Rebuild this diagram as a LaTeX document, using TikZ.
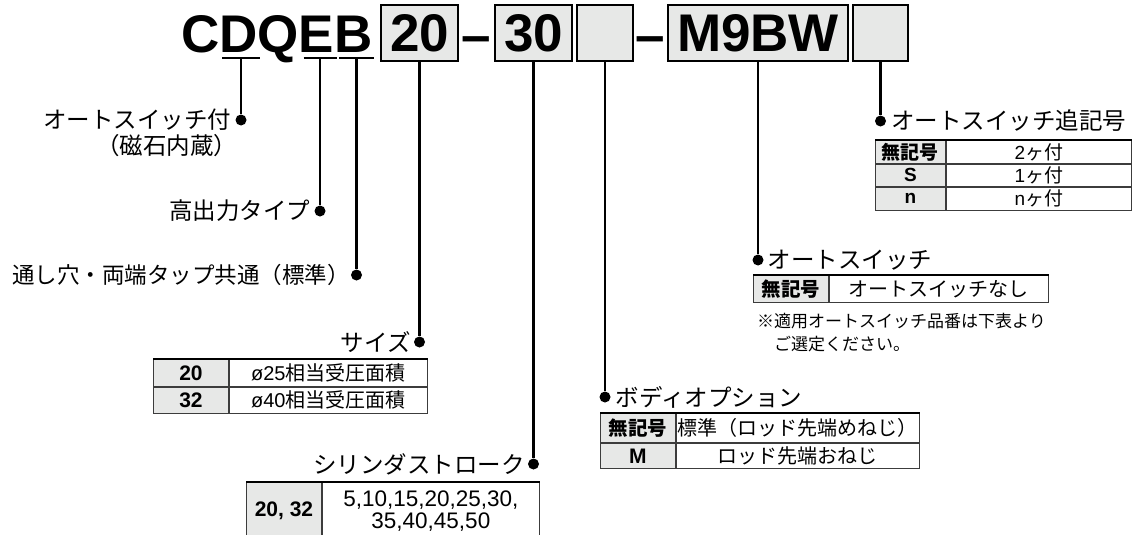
\documentclass[tikz,border=0pt]{standalone}
\usepackage{fontspec}
\setmainfont{Liberation Sans}
\newfontfamily\jp{Noto Sans CJK JP}
\usepackage{tikz}
\usetikzlibrary{calc}
\definecolor{keygray}{RGB}{231,232,231}
\definecolor{cellline}{RGB}{60,60,60}
\newcommand{\fs}[1]{\fontsize{#1}{#1}\selectfont}

\begin{document}
\begin{tikzpicture}[x=1pt,y=-1pt,
  dot/.style={circle,fill=black,inner sep=0pt,minimum size=11pt},
  lead/.style={line width=2.4pt},
  codebox/.style={draw,line width=1.5pt,fill=keygray,inner sep=0pt,minimum height=56pt,font=\bfseries\fs{53}},
  head/.style={inner sep=0pt,font=\jp\fs{23.5}},
  keycell/.style={draw=cellline,fill=keygray,line width=0.9pt,inner sep=0pt,anchor=north west,font=\bfseries\fs{21}},
  valcell/.style={draw=cellline,line width=0.9pt,inner sep=0pt,anchor=north west,font=\fs{20}},
  topline/.style={line width=2.2pt},
  note/.style={inner sep=0pt,anchor=west,font=\jp\fs{17}}]

\useasboundingbox (0,0) rectangle (1135,535);

% model code
\node[anchor=base west,inner sep=0pt,font=\bfseries\fs{53}] (code) at (181,53) {CDQEB};
\node[codebox,minimum width=77pt] (b20) at (419.5,33) {20};
\node[anchor=base,inner sep=0pt,font=\bfseries\fs{53}] (dash1) at (476.5,54) {–};
\node[codebox,minimum width=77pt] (b30) at (533.5,33) {30};
\node[codebox,minimum width=56pt] (bOpt) at (605,33) {};
\node[anchor=base,inner sep=0pt,font=\bfseries\fs{53}] (dash2) at (650.5,54) {–};
\node[codebox,minimum width=180pt] (bSw) at (758,33) {M9BW};
\node[codebox,minimum width=55pt] (bSuf) at (880.5,33) {};

% underlines below the letters
\coordinate (uD) at (241,58);
\coordinate (uE) at (320,58);
\coordinate (uB) at (356.5,58);
\foreach \c/\w in {uD/19,uE/16.5,uB/17.5}
\draw[line width=1.5pt] ([xshift=-\w pt]\c) -- ([xshift=\w pt]\c);

% left side
\node[dot] (dAuto) at (241,120) {};
\draw[lead] (uD) -- (dAuto);
\node[head,anchor=east] (lAuto) at ([xshift=-4pt]dAuto.west) {オートスイッチ付};
\node[head,anchor=north east] (lAuto2) at ([xshift=6pt,yshift=-3pt]lAuto.south east) {（磁石内蔵）};

\node[dot] (dHigh) at (320,211) {};
\draw[lead] (uE) -- (dHigh);
\node[head,anchor=east] (lHigh) at ([xshift=-4pt]dHigh.west) {高出力タイプ};

\node[dot] (dPort) at (356.5,275) {};
\draw[lead] (uB) -- (dPort);
\node[head,anchor=east,font=\jp\fs{22.5}] (lPort) at ([xshift=-1pt]dPort.west) {通し穴・両端タップ共通（標準）};

% bore size
\node[dot] (dSize) at (419.5,342) {};
\draw[lead] (b20) -- (dSize);
\node[head,anchor=east] (lSize) at ([xshift=-3pt]dSize.west) {サイズ};
\node[keycell,minimum width=75pt,minimum height=27pt] (s1k) at (153,359) {20};
\node[valcell,minimum width=198pt,minimum height=27pt] (s1v) at (s1k.north east) {ø25{\jp 相当受圧面積}};
\node[keycell,minimum width=75pt,minimum height=26pt] (s2k) at (s1k.south west) {32};
\node[valcell,minimum width=198pt,minimum height=26pt] (s2v) at (s2k.north east) {ø40{\jp 相当受圧面積}};
\draw[topline] (s1k.north west) -- (s1v.north east);

% stroke
\node[dot] (dStroke) at (533.5,464) {};
\draw[lead] (b30) -- (dStroke);
\node[head,anchor=east] (lStroke) at ([xshift=-3pt]dStroke.west) {シリンダストローク};
\node[keycell,minimum width=75pt,minimum height=57pt] (t1k) at (246,482) {20, 32};
\node[valcell,minimum width=217pt,minimum height=57pt,align=center,font=\fontsize{22.5}{22}\selectfont] (t1v) at (t1k.north east) {5,10,15,20,25,30,\\35,40,45,50};
\draw[topline] (t1k.north west) -- (t1v.north east);

% body option
\node[dot] (dBody) at (605,397) {};
\draw[lead] (bOpt) -- (dBody);
\node[head,anchor=west] (lBody) at ([xshift=5pt]dBody.east) {ボディオプション};
\node[keycell,minimum width=75pt,minimum height=29pt,font=\bfseries\fs{19.5}] (o1k) at (600,413) {\jp 無記号};
\node[valcell,minimum width=243pt,minimum height=29pt] (o1v) at (o1k.north east) {\jp 標準（ロッド先端めねじ）};
\node[keycell,minimum width=75pt,minimum height=25pt] (o2k) at (o1k.south west) {M};
\node[valcell,minimum width=243pt,minimum height=25pt] (o2v) at (o2k.north east) {\jp ロッド先端おねじ};
\draw[topline] (o1k.north west) -- (o1v.north east);

% auto switch
\node[dot] (dSw) at (758,260) {};
\draw[lead] (bSw) -- (dSw);
\node[head,anchor=west] (lSw) at ([xshift=4pt]dSw.east) {オートスイッチ};
\node[keycell,minimum width=75pt,minimum height=27pt,font=\bfseries\fs{19.5}] (w1k) at (753,275) {\jp 無記号};
\node[valcell,minimum width=219pt,minimum height=27pt] (w1v) at (w1k.north east) {\jp オートスイッチなし};
\draw[topline] (w1k.north west) -- (w1v.north east);
\node[note] (n1) at (757,321) {※適用オートスイッチ品番は下表より};
\node[note] (n2) at (774,344) {ご選定ください。};

% suffix
\node[dot] (dSuf) at (880.5,121) {};
\draw[lead] (bSuf) -- (dSuf);
\node[head,anchor=west] (lSuf) at ([xshift=5pt]dSuf.east) {オートスイッチ追記号};
\node[keycell,minimum width=70pt,minimum height=23pt,font=\bfseries\fs{19}] (x1k) at (875,140) {\jp 無記号};
\node[valcell,minimum width=185pt,minimum height=23pt,font=\fs{19}] (x1v) at (x1k.north east) {2{\jp ヶ付}};
\node[keycell,minimum width=70pt,minimum height=22pt,font=\bfseries\fs{19}] (x2k) at (x1k.south west) {S};
\node[valcell,minimum width=185pt,minimum height=22pt,font=\fs{19}] (x2v) at (x2k.north east) {1{\jp ヶ付}};
\node[keycell,minimum width=70pt,minimum height=23pt,font=\bfseries\fs{19}] (x3k) at (x2k.south west) {n};
\node[valcell,minimum width=185pt,minimum height=23pt,font=\fs{19}] (x3v) at (x3k.north east) {n{\jp ヶ付}};
\draw[topline] (x1k.north west) -- (x1v.north east);
\end{tikzpicture}
\end{document}
